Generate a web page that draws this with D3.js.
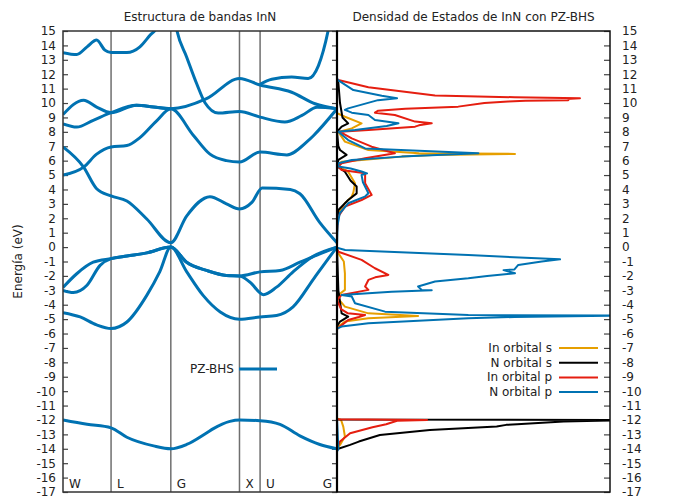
<!DOCTYPE html>
<html>
<head>
<meta charset="utf-8">
<script src="https://cdn.jsdelivr.net/npm/d3@7"></script>
<style>
body { margin: 0; background: #fff; }
text { font-family: "DejaVu Sans", sans-serif; fill: #222; }
</style>
</head>
<body>
<div id="chart"></div>
<script>
// puntos de alta simetria
var kLabels = ["W", "L", "G", "X", "U", "G"];
var kTicks = [0, 0.70, 1.57, 2.57, 2.87, 3.99];
var eTicks = d3.range(-17, 16);

// bandas [k, E]
var bandS = [[0,-12.0],[0.35,-12.3],[0.70,-12.55],[0.93,-13.2],[1.32,-13.8],[1.57,-14.0],[1.80,-13.7],[2.09,-12.9],[2.19,-12.6],[2.43,-12.1],[2.57,-12.0],[2.87,-12.05],[3.16,-12.3],[3.45,-13.1],[3.74,-13.7],[3.99,-14.0]];
var bandA = [[0,-4.55],[0.25,-4.85],[0.49,-5.4],[0.70,-5.65],[0.93,-5.2],[1.22,-3.35],[1.41,-1.7],[1.57,0],[1.80,-1.7],[2.04,-3.35],[2.29,-4.5],[2.57,-5.0],[2.87,-4.85],[3.11,-4.75],[3.35,-4.15],[3.65,-2.2],[3.84,-0.95],[3.99,0]];
var bandB1 = [[0,-2.8],[0.20,-1.85],[0.44,-1.05],[0.70,-0.8],[0.93,-0.62],[1.22,-0.4],[1.57,0],[1.80,-1.05],[2.09,-1.62],[2.38,-1.97],[2.57,-2.0],[2.87,-1.72],[3.16,-1.62],[3.45,-1.05],[3.74,-0.47],[3.99,0]];
var bandB2 = [[0,-3.0],[0.15,-3.15],[0.35,-2.65],[0.54,-1.27],[0.70,-0.8],[0.93,-0.62],[1.22,-0.4],[1.57,0],[1.80,-1.05],[2.09,-1.62],[2.38,-1.97],[2.57,-2.0],[2.72,-2.42],[2.92,-3.3],[3.11,-2.78],[3.35,-1.72],[3.65,-0.62],[3.99,0]];
var bandC = [[0,6.95],[0.30,5.55],[0.49,4.05],[0.70,3.55],[0.93,3.2],[1.22,1.95],[1.57,0.3],[1.80,2.15],[2.14,3.5],[2.38,3.0],[2.57,2.65],[2.75,3.1],[2.90,4.1],[3.31,4.0],[3.45,3.7],[3.74,1.7],[3.99,0.3]];
var bandD = [[0,5.0],[0.30,5.55],[0.49,6.45],[0.70,6.95],[0.93,7.05],[1.12,7.6],[1.36,8.75],[1.57,9.6],[1.90,7.75],[2.14,6.45],[2.38,6.0],[2.57,5.9],[2.87,6.6],[3.26,6.4],[3.55,7.3],[3.65,7.75],[3.99,9.6]];
var bandE1 = [[0,8.55],[0.20,8.33],[0.44,8.8],[0.70,9.33],[1.07,9.85],[1.32,9.72],[1.57,9.6],[2.09,10.3],[2.57,11.7],[2.87,11.25],[3.33,10.75],[3.67,9.95],[3.99,9.6]];
var bandE2 = [[0,9.2],[0.30,10.2],[0.49,9.72],[0.70,9.33],[1.07,9.85],[1.32,9.72],[1.57,9.6]];
var bandF = [[1.60,16.5],[1.66,15.0],[1.80,13.2],[1.95,11.3],[2.07,10.0],[2.26,9.3],[2.57,9.42],[2.87,9.02],[3.23,8.68],[3.48,9.14],[3.70,9.7],[3.99,9.6]];
var bandG = [[2.87,11.3],[3.04,11.65],[3.33,11.8],[3.57,11.7],[3.72,12.6],[3.86,15.0],[3.92,16.5]];
var bandT = [[0,13.5],[0.20,13.37],[0.35,13.9],[0.49,14.37],[0.61,13.67],[0.70,13.5],[0.93,13.5],[1.12,13.9],[1.27,14.72],[1.36,15.2],[1.45,16.5]];
var bands = [bandS, bandA, bandB1, bandB2, bandC, bandD, bandE1, bandE2, bandF, bandG, bandT];

// densidad de estados [E, dos]
var dosInS = [[9.3,0],[9.05,0.29],[8.59,0.9],[8.24,0.54],[8.0,0.05],[7.32,0.29],[6.74,1.15],[6.51,3.0],[6.47,6.52],[6.4,3.5],[6.28,2.37],[5.93,0.17],[5.6,0.05],[5.23,0.41],[4.43,0.66],[3.8,0.6],[3.5,0.54],[3.04,0.29],[2.35,0.05],[1.5,0],[-0.1,0],[-0.43,0.05],[-1.0,0.25],[-1.82,0.29],[-2.97,0.29],[-3.32,0.05],[-3.6,0.05],[-4.13,0.29],[-4.6,1.15],[-4.78,2.97],[-4.94,1.15],[-5.17,0.29],[-5.52,0.05],[-5.7,0],[-11.9,0],[-12.0,0.15],[-12.46,0.23],[-13.15,0.29],[-13.73,0.11],[-13.96,0],[-14.2,0]];
var dosNS = [[11.6,0],[11.4,0.05],[10.0,0.11],[9.0,0.2],[8.59,0.41],[8.36,0.17],[8.0,0],[7.0,0.05],[6.74,0.11],[6.4,0.35],[6.05,0.05],[5.6,0],[5.23,0.29],[4.6,0.5],[4.2,0.72],[3.73,0.72],[3.27,0.41],[2.58,0.05],[1.5,0],[-0.1,0],[-3.0,0.05],[-4.6,0.17],[-4.83,0.41],[-5.17,0.11],[-5.5,0],[-11.97,0],[-12.0,12],[-12.04,10],[-12.11,8.3],[-12.3,6.6],[-12.34,6.2],[-12.46,5.85],[-12.69,3.4],[-13.04,1.57],[-13.5,0.8],[-13.73,0.48],[-14.0,0.05],[-14.1,0]];
var dosInP = [[11.65,0],[11.6,0.05],[11.1,1.15],[10.53,3.59],[10.4,6.5],[10.33,8.9],[10.28,8.5],[10.2,8.47],[10.15,6.9],[10.1,6.27],[10.0,5.4],[9.75,4.44],[9.6,2.5],[9.47,1.51],[9.33,1.39],[9.17,2.12],[8.71,2.86],[8.59,3.47],[8.45,3.0],[8.36,2.86],[8.12,1.15],[8.0,0.11],[7.55,0.54],[6.97,1.27],[6.51,2.12],[6.16,1.03],[5.82,0.17],[5.6,0.05],[5.35,0.17],[5.12,1.03],[4.43,1.03],[3.62,1.27],[3.27,0.9],[2.81,0.29],[2.12,0.05],[1.0,0],[-0.1,0],[-0.32,0.05],[-0.89,0.9],[-1.47,1.39],[-1.93,1.88],[-2.1,1.4],[-2.28,1.15],[-2.74,1.03],[-2.97,1.15],[-3.32,0.17],[-3.67,0],[-4.3,0.15],[-4.6,0.4],[-4.71,1.03],[-4.85,0.8],[-5.06,0.41],[-5.52,0.11],[-5.7,0],[-11.95,0],[-12.0,3.3],[-12.05,2.2],[-12.3,1.8],[-12.5,1.3],[-12.92,0.48],[-13.5,0.11],[-13.96,0],[-14.2,0]];
var dosNP = [[11.7,0],[11.57,0.05],[10.9,0.6],[10.5,1.64],[10.33,2.2],[10.2,1.5],[9.63,0.41],[9.52,0.29],[9.33,0.54],[9.17,1.15],[8.82,1.39],[8.59,2.25],[8.4,1.82],[8.12,0.66],[8.0,0.05],[7.43,0.41],[6.85,1.03],[6.51,5.18],[6.28,2.37],[6.05,0.54],[5.82,0.05],[5.6,0.05],[5.45,0.5],[5.25,0.9],[5.12,1.1],[5.0,0.9],[4.5,0.95],[3.74,1.15],[3.5,1.02],[3.04,0.41],[2.35,0.1],[1.5,0.02],[0.1,0],[-0.05,0],[-0.2,0.3],[-0.55,4.81],[-0.85,8.17],[-1.0,7.5],[-1.24,6.64],[-1.55,6.5],[-1.6,6.1],[-1.82,6.52],[-2.0,5.5],[-2.16,4.81],[-2.39,3.59],[-2.74,2.97],[-2.97,3.1],[-3.0,3.47],[-3.1,2.0],[-3.2,1.15],[-3.32,0.17],[-3.43,0.54],[-3.9,0.66],[-4.48,1.76],[-4.71,4.81],[-4.76,10.5],[-4.85,6.5],[-4.94,4.81],[-5.29,1.15],[-5.52,0.17],[-5.65,0],[-11.9,0],[-14.0,0.05],[-14.2,0]];

var dosNames = ["In orbital s", "N orbital s", "In orbital p", "N orbital p"];
var dosColors = ["#e69f00", "#000000", "#e51e10", "#0072b2"];
var dosSeries = [dosInS, dosNS, dosInP, dosNP];

var yTop = 31, yBottom = 492;
var left1 = 63, mid = 337, right2 = 610;

var svg = d3.select("#chart").append("svg")
    .attr("width", 689)
    .attr("height", 496);

var y = d3.scaleLinear().domain([-17, 15]).range([yBottom, yTop]);
var xk = d3.scaleLinear().domain([0, 3.99]).range([left1, mid]);
var xd = d3.scaleLinear().domain([0, 10]).range([mid, right2]);

svg.append("clipPath").attr("id", "clipB")
  .append("rect").attr("x", left1).attr("y", yTop).attr("width", mid - left1).attr("height", yBottom - yTop);
svg.append("clipPath").attr("id", "clipD")
  .append("rect").attr("x", mid).attr("y", yTop).attr("width", right2 - mid).attr("height", yBottom - yTop);

// lineas verticales de puntos k
svg.selectAll(".kline").data(kTicks.slice(1, 5)).enter().append("line")
    .attr("x1", function(d) { return xk(d); })
    .attr("x2", function(d) { return xk(d); })
    .attr("y1", yTop).attr("y2", yBottom)
    .style("stroke", "#6f6f6f").style("stroke-width", 1.5);

// ejes (guion normal en los negativos)
var fmt = function(d) { return String(d); };
var axL = svg.append("g")
    .attr("transform", "translate(" + left1 + ",0)")
    .call(d3.axisLeft(y).tickValues(eTicks).tickSize(-5).tickPadding(7).tickFormat(fmt));
var axM = svg.append("g")
    .attr("transform", "translate(" + mid + ",0)")
    .call(d3.axisRight(y).tickValues(eTicks).tickSize(-5).tickFormat(""));
var axR = svg.append("g")
    .attr("transform", "translate(" + right2 + ",0)")
    .call(d3.axisRight(y).tickValues(eTicks).tickSize(-6).tickPadding(12).tickFormat(fmt));
[axL, axM, axR].forEach(function(a) {
  a.select(".domain").remove();
  a.selectAll("line").style("stroke", "#444").style("stroke-width", 1.2);
  a.selectAll("text").style("font-size", "12px").style("fill", "#222")
    .style("font-family", "'DejaVu Sans', sans-serif");
});

// bandas
var bandLine = d3.line()
    .x(function(d) { return xk(d[0]); })
    .y(function(d) { return y(d[1]); })
    .curve(d3.curveMonotoneX);

svg.append("g").attr("clip-path", "url(#clipB)")
  .selectAll("path").data(bands).enter().append("path")
    .attr("d", bandLine)
    .style("fill", "none")
    .style("stroke", "#0072b2")
    .style("stroke-width", 3);

// DOS
var dosLine = d3.line()
    .x(function(d) { return xd(d[1]); })
    .y(function(d) { return y(d[0]); });

svg.append("g").attr("clip-path", "url(#clipD)")
  .selectAll("path").data(dosSeries).enter().append("path")
    .attr("d", dosLine)
    .style("fill", "none")
    .style("stroke", function(d, i) { return dosColors[i]; })
    .style("stroke-width", 2)
    .style("stroke-linejoin", "round");

// marcos
svg.append("rect").attr("x", left1).attr("y", yTop).attr("width", mid - left1).attr("height", yBottom - yTop)
    .style("fill", "none").style("stroke", "#333").style("stroke-width", 1.5);
svg.append("rect").attr("x", mid).attr("y", yTop).attr("width", right2 - mid).attr("height", yBottom - yTop)
    .style("fill", "none").style("stroke", "#111").style("stroke-width", 1.5);
svg.append("line").attr("x1", mid).attr("x2", mid).attr("y1", yTop).attr("y2", yBottom)
    .style("stroke", "#000").style("stroke-width", 2.2);

// etiquetas k
svg.selectAll(".klab").data(kLabels).enter().append("text")
    .attr("x", function(d, i) { return i == kLabels.length - 1 ? xk(kTicks[i]) - 5 : xk(kTicks[i]) + 6; })
    .attr("y", 488)
    .style("text-anchor", function(d, i) { return i == kLabels.length - 1 ? "end" : "start"; })
    .style("font-size", "12px")
    .text(function(d) { return d; });

// titulos
svg.append("text").attr("x", (left1 + mid) / 2).attr("y", 21)
    .style("text-anchor", "middle").style("font-size", "12px")
    .text("Estructura de bandas InN");
svg.append("text").attr("x", (mid + right2) / 2).attr("y", 21)
    .style("text-anchor", "middle").style("font-size", "12px")
    .text("Densidad de Estados de InN con PZ-BHS");
svg.append("text")
    .attr("transform", "translate(22," + (yTop + yBottom) / 2 + ") rotate(-90)")
    .style("text-anchor", "middle").style("font-size", "12px")
    .text("Energía (eV)");

// leyenda bandas
svg.append("text").attr("x", 234).attr("y", 373)
    .style("text-anchor", "end").style("font-size", "12px").text("PZ-BHS");
svg.append("line").attr("x1", 239).attr("x2", 277).attr("y1", 369).attr("y2", 369)
    .style("stroke", "#0072b2").style("stroke-width", 3);

// leyenda DOS
var leg = svg.selectAll(".leg").data(dosNames).enter().append("g")
    .attr("transform", function(d, i) { return "translate(0," + (348 + i * 14.7) + ")"; });
leg.append("text").attr("x", 552).attr("y", 4)
    .style("text-anchor", "end").style("font-size", "12px")
    .text(function(d) { return d; });
leg.append("line").attr("x1", 559).attr("x2", 598).attr("y1", 0).attr("y2", 0)
    .style("stroke", function(d, i) { return dosColors[i]; })
    .style("stroke-width", 2);
</script>
</body>
</html>
